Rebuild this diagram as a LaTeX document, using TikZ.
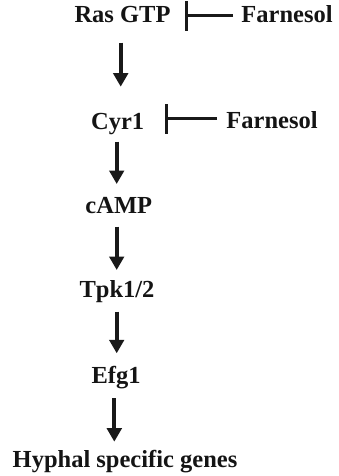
\documentclass[tikz,border=0pt]{standalone}
\usepackage{fontspec}
\setmainfont{Liberation Serif}
\usetikzlibrary{arrows.meta}
\begin{document}
\begin{tikzpicture}[x=1pt,y=-1pt,
  lbl/.style={anchor=base,inner sep=0pt,font=\fontsize{24.5}{28}\selectfont\bfseries,text=black!92},
  act/.style={line width=3.8pt,draw=black!90,-{Triangle[width=14.5pt,length=13.5pt]}},
  inh/.style={line width=2.6pt,draw=black!90,-{Bar[width=30pt,line width=2.8pt]}}]
\useasboundingbox (0,0) rectangle (339,476);
\node[lbl] (ras)  at (122.5,23)   {Ras GTP};
\node[lbl] (f1)   at (287,23)     {Farnesol};
\node[lbl] (cyr)  at (117.7,129)  {Cyr1};
\node[lbl] (f2)   at (272,128.5)  {Farnesol};
\node[lbl] (camp) at (118.8,213.3){cAMP};
\node[lbl] (tpk)  at (117,297.3)  {Tpk1/2};
\node[lbl] (efg)  at (116,383.3)  {Efg1};
\node[lbl] (hyph) at (125,467)    {Hyphal specific genes};
% activation arrows
\draw[act] ([shift={(-1.8,19.7)}]ras.base) -- ([shift={(3,-42.3)}]cyr.base);
\draw[act] ([shift={(-1,12.7)}]cyr.base) -- ([shift={(-2.1,-29.3)}]camp.base);
\draw[act] ([shift={(-2.1,13.4)}]camp.base) -- ([shift={(-0.3,-27.3)}]tpk.base);
\draw[act] ([shift={(-0.3,14.4)}]tpk.base) -- ([shift={(0.7,-30)}]efg.base);
\draw[act] ([shift={(-1.7,15)}]efg.base) -- ([shift={(-10.7,-25.3)}]hyph.base);
% inhibition
\draw[inh] ([shift={(-8,-7.3)}]f1.base west) -- ([shift={(14.7,-7.3)}]ras.base east);
\draw[inh] ([shift={(-9,-9.8)}]f2.base west) -- ([shift={(20.6,-10.3)}]cyr.base east);
\end{tikzpicture}
\end{document}
